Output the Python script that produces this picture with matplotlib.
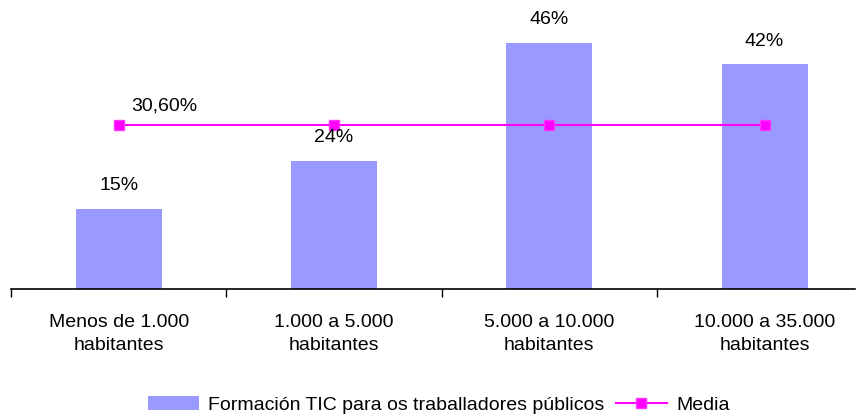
import matplotlib.pyplot as plt
import numpy as np

plt.rcParams['font.family'] = ['Liberation Sans', 'DejaVu Sans']

categories = ['Menos de 1.000\nhabitantes', '1.000 a 5.000\nhabitantes',
              '5.000 a 10.000\nhabitantes', '10.000 a 35.000\nhabitantes']
formacion = [15, 24, 46, 42]
media = [30.6, 30.6, 30.6, 30.6]
bar_labels = ['15%', '24%', '46%', '42%']
media_label = '30,60%'

fig = plt.figure(figsize=(8.61, 4.16), dpi=100)
ax = fig.add_axes([11 / 861, 1 - 289 / 416, 844 / 861, 289 / 416])

x = np.arange(len(categories))
bars = ax.bar(x, formacion, width=0.4, color='#9999FF',
              label='Formación TIC para os traballadores públicos')
line, = ax.plot(x, media, color='#FF00FF', lw=1.5, marker='s', markersize=7,
                markerfacecolor='#FF00FF', markeredgecolor='#FF33FF',
                label='Media')

for xi, v, lab in zip(x, formacion, bar_labels):
    ax.text(xi, v + 4.3, lab, ha='center', va='center', fontsize=14)
ax.text(x[0] + 0.06, media[0] + 3.6, media_label, ha='left', va='center',
        fontsize=14)

ax.set_xticks([-0.5, 0.5, 1.5, 2.5])
ax.set_xticklabels([])
ax.set_xticks(x, minor=True)
ax.set_xticklabels(categories, minor=True, fontsize=14, linespacing=1.5)
ax.tick_params(axis='x', which='major', direction='out', length=6, width=1)
ax.tick_params(axis='x', which='minor', length=0, pad=18)
ax.set_yticks([])
ax.set_xlim(-0.5, 3.42)
ax.set_ylim(0, 54)
for s in ['left', 'right', 'top']:
    ax.spines[s].set_visible(False)
ax.spines['bottom'].set_linewidth(1.2)

fig.legend(handles=[bars, line], loc='center',
           bbox_to_anchor=(439 / 861, 1 - 405 / 416),
           ncol=2, frameon=False, fontsize=14, handlelength=2.6,
           handleheight=0.7, columnspacing=0.6, handletextpad=0.5)

fig.savefig('out.png', dpi=100)
